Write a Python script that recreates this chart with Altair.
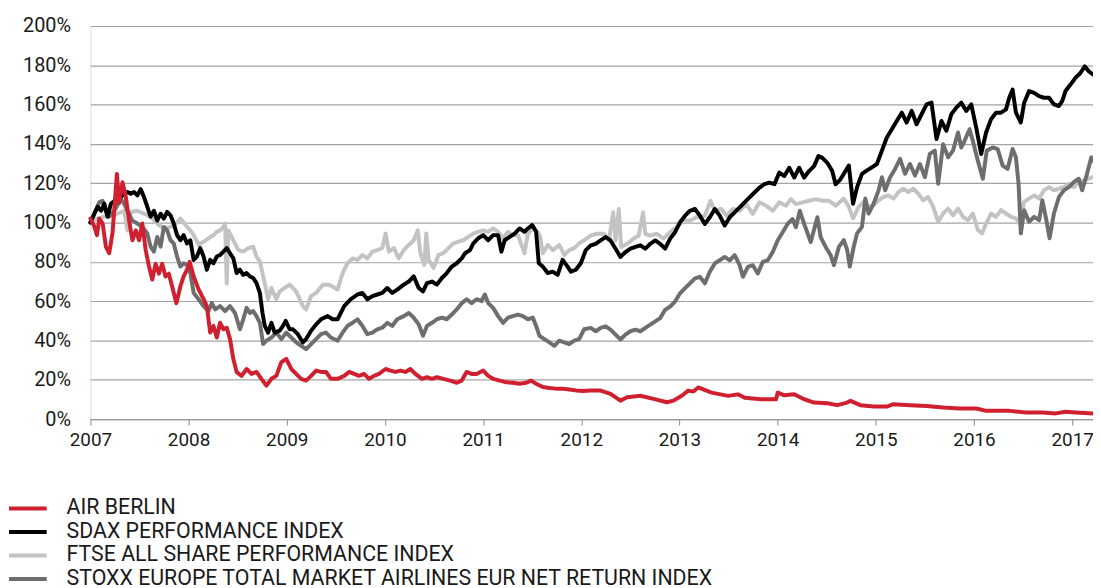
import altair as alt
import pandas as pd

# ---------------- data (years since 1 Jan 2007, value in % of start) ----------------
NAMES = [
    "AIR BERLIN",
    "SDAX PERFORMANCE INDEX",
    "FTSE ALL SHARE PERFORMANCE INDEX",
    "STOXX EUROPE TOTAL MARKET AIRLINES EUR NET RETURN INDEX",
]
COLORS = ["#d0202f", "#000000", "#c3c3c3", "#6e6e6e"]
DRAW_ORDER = [2, 3, 1, 0]

air_t = [0.000, 0.040, 0.067, 0.091, 0.125, 0.158, 0.192, 0.226, 0.260, 0.270, 0.293, 0.327, 0.361,
         0.394, 0.428, 0.462, 0.495, 0.529, 0.563, 0.597, 0.630, 0.664, 0.698, 0.731, 0.765, 0.799,
         0.832, 0.876, 0.917, 0.950, 0.984, 1.011, 1.052, 1.102, 1.153, 1.186, 1.220, 1.254, 1.287,
         1.321, 1.355, 1.389, 1.422, 1.456, 1.490, 1.540, 1.591, 1.641, 1.692, 1.742, 1.793, 1.844,
         1.894, 1.945, 1.995, 2.046, 2.096, 2.147, 2.197, 2.248, 2.299, 2.349, 2.400, 2.450,
         2.518, 2.585, 2.636, 2.687, 2.737, 2.788, 2.838, 2.889, 2.939, 3.007, 3.057, 3.108, 3.158,
         3.209, 3.259, 3.310, 3.377, 3.428, 3.479, 3.529, 3.597, 3.664, 3.731, 3.782, 3.832, 3.883,
         3.934, 4.001, 4.052, 4.102, 4.170, 4.237, 4.304, 4.372, 4.439, 4.490, 4.540, 4.608, 4.675,
         4.742, 4.810, 4.877, 4.945, 5.012, 5.096, 5.197, 5.298, 5.399, 5.467, 5.602, 5.736, 5.871,
         5.939, 6.023, 6.090, 6.141, 6.191, 6.327, 6.495, 6.596, 6.664, 6.832, 6.984, 7.001, 7.068,
         7.169, 7.270, 7.371, 7.506, 7.607, 7.708, 7.742, 7.843, 7.978, 8.113, 8.180, 8.349, 8.517,
         8.686, 8.854, 9.023, 9.124, 9.360, 9.528, 9.697, 9.832, 9.933, 10.034, 10.212]
air_v = [102, 98, 93.6, 102, 99.5, 87.7, 84.4, 95, 118, 124.7, 110, 120.5, 113,
         101, 91, 96, 91, 99.5, 86, 77.6, 71, 79, 74, 79, 72.6, 74,
         67.6, 59, 67.6, 72.6, 76, 80, 72.6, 66, 61, 57.5, 44, 47.4, 41.5,
         49, 45.7, 46.5, 40.7, 30.6, 23.9, 22, 25.5, 23, 24, 20.5, 17, 20.5,
         22, 29, 30.6, 25.5, 23, 20.5, 19.6, 22, 24.7, 24, 24, 20.5,
         20.5, 22, 24, 23, 22, 23, 20.5, 22, 23, 25.5, 24.7, 24, 24.7,
         24, 25.5, 23, 20.5, 21.3, 20.5, 21.3, 20.5, 19.6, 18.5, 19.6, 24, 23,
         23, 24.7, 22, 20.5, 19.6, 18.7, 18.5, 18, 18.5, 19.6, 18, 16.3, 15.8,
         15.5, 15.5, 15.1, 14.6, 14.3, 14.5, 14.5, 12.8, 9.4, 11.1, 11.9, 10.3, 8.6,
         9.4, 11.9, 14.5, 14, 16.1, 13.5, 11.8, 12.6, 10.9, 10.1, 10.1, 13.5, 12.1,
         12.6, 10.1, 8.4, 8.1, 7.1, 8.4, 9.3, 7.1, 6.4, 6.4, 7.6, 7.1, 6.7,
         5.9, 5.4, 5.4, 4.2, 4.2, 3.4, 3.4, 2.9, 3.7, 3.4, 2.9]

sdax_t = [0.000, 0.040, 0.074, 0.108, 0.142, 0.175, 0.209, 0.243, 0.276, 0.310, 0.344, 0.377, 0.411,
          0.445, 0.479, 0.512, 0.546, 0.580, 0.613, 0.647, 0.681, 0.715, 0.748, 0.782, 0.816, 0.849,
          0.883, 0.917, 0.950, 0.984, 1.018, 1.052, 1.085, 1.119, 1.153, 1.186, 1.220, 1.254, 1.287,
          1.321, 1.355, 1.389, 1.422, 1.456, 1.490, 1.523, 1.557, 1.591, 1.625, 1.658, 1.692, 1.726,
          1.753, 1.776, 1.810, 1.844, 1.877, 1.928, 1.962, 1.989, 2.029, 2.063, 2.113, 2.164, 2.197,
          2.248, 2.299, 2.349, 2.417, 2.467,
          2.518, 2.585, 2.653, 2.720, 2.771, 2.821, 2.872, 2.922, 2.973, 3.024, 3.074, 3.125, 3.192,
          3.243, 3.293, 3.344, 3.388, 3.428, 3.479, 3.529, 3.580, 3.630, 3.681, 3.731, 3.782, 3.816,
          3.866, 3.900, 3.950, 4.001, 4.052, 4.102, 4.153, 4.186, 4.220, 4.271, 4.321, 4.372, 4.422,
          4.456, 4.500, 4.540, 4.567, 4.608, 4.658, 4.709, 4.759, 4.810, 4.860, 4.894, 4.945, 4.995,
          5.046,
          5.096, 5.147, 5.197, 5.248, 5.298, 5.349, 5.399, 5.450, 5.500, 5.551, 5.602, 5.652, 5.703,
          5.753, 5.804, 5.854, 5.905, 5.955, 6.006, 6.057, 6.107, 6.158, 6.208, 6.259, 6.309, 6.360,
          6.410, 6.461, 6.512, 6.562, 6.613, 6.663, 6.714, 6.764, 6.815, 6.865, 6.916, 6.967, 7.017,
          7.068, 7.118, 7.169, 7.219, 7.270, 7.320, 7.371, 7.415, 7.455, 7.506, 7.556, 7.590, 7.640,
          7.674, 7.725, 7.768, 7.809, 7.859, 7.910, 7.960, 8.011, 8.062, 8.112, 8.163, 8.213, 8.264,
          8.314, 8.365, 8.415, 8.466, 8.517, 8.567, 8.618, 8.668, 8.719, 8.769, 8.820, 8.871, 8.921,
          8.972, 9.022, 9.073, 9.123, 9.174, 9.224, 9.275, 9.326, 9.359, 9.393, 9.427, 9.477, 9.511,
          9.561, 9.612, 9.663, 9.713, 9.764, 9.814, 9.865, 9.898, 9.932, 9.983, 10.033, 10.084, 10.128,
          10.168, 10.212]
sdax_v = [100, 104.5, 108, 106, 109.6, 103, 109.6, 111, 112, 113, 114.6, 115.5, 114.6,
          115.5, 113.8, 117, 113, 108, 103, 106, 101, 104.5, 102, 105.4, 103.7, 99.5,
          93.6, 91, 93.6, 89.4, 91, 81, 82.7, 87, 82.7, 76, 81, 79.3, 82.7,
          83.5, 85.2, 87, 84.4, 81.8, 74.3, 76, 73.4, 74.3, 72.6, 71.8, 69.2, 64.2,
          54, 47.4, 44, 49, 44, 45, 47.4, 50, 45.7, 45.7, 43.2, 39, 40.7,
          45, 48.2, 50.8, 52.4, 50.8,
          50.8, 57.5, 61, 63.4, 64.2, 61, 62.6, 63.4, 64.2, 66.7, 64.2, 65.9, 68.4,
          70, 72.6, 66.7, 65, 69.2, 70, 68.4, 71.8, 74.3, 77.6, 79.3, 81.8, 84.4,
          86, 89.4, 92, 93.6, 91, 93.6, 93.6, 85.2, 91, 92.7, 94.4, 97, 95.3,
          97, 98.7, 95.3, 79.3, 77.6, 74.3, 75, 73.4, 81, 77.6, 75, 76, 79.3,
          86,
          88.4, 89.2, 90.9, 92.6, 90.9, 86.7, 82.5, 85, 86.7, 87.6, 88.4, 86.7, 89.2,
          90.9, 89.2, 86.7, 91.8, 95.1, 100.2, 103.5, 106, 106.9, 103.5, 99.3, 102.7, 106.9,
          103.5, 98.5, 102.7, 105.2, 107.7, 110.3, 112.8, 115.3, 117.8, 119.5, 120.3, 119.5, 125.4,
          123.7, 127.9, 122.9, 127.9, 122.9, 126.2, 128.7, 133.8, 132.9, 130.4, 126.2, 119.5, 122,
          124.8, 129, 109.6, 118, 124.8, 126.5, 128.1, 129.8, 136.6, 143.3, 147.5, 151.7, 155.9,
          150.9, 156.8, 150, 155.1, 160.1, 161, 142.5, 151.7, 146.7, 155.1, 158.5, 161, 156.8,
          160.1, 148.4, 134.9, 145.8, 152.6, 155.9, 155.9, 157.6, 163.5, 167.7, 155.9, 150.9, 161,
          166.9, 166, 164.3, 163.5, 163.5, 160.1, 159.3, 161.8, 166.9, 170.2, 173.6, 176.1, 179.5,
          177, 175.3]

ftse_t = [0.000, 0.074, 0.142, 0.209, 0.276, 0.344, 0.377, 0.411, 0.479, 0.546, 0.613, 0.681, 0.748,
          0.816, 0.883, 0.917, 0.950, 0.984, 1.018, 1.052, 1.102, 1.153, 1.203, 1.254, 1.287, 1.321,
          1.355, 1.372, 1.389, 1.405, 1.456, 1.507, 1.557, 1.608, 1.658, 1.692, 1.726, 1.776, 1.810,
          1.844, 1.894, 1.928, 1.978, 2.029, 2.096, 2.164, 2.197, 2.248, 2.299, 2.366, 2.433,
          2.518, 2.569, 2.619, 2.670, 2.720, 2.771, 2.821, 2.872, 2.922, 2.973, 3.007, 3.040, 3.091,
          3.141, 3.192, 3.243, 3.293, 3.334, 3.361, 3.401, 3.421, 3.445, 3.495, 3.546, 3.597, 3.647,
          3.698, 3.748, 3.799, 3.849, 3.900, 3.950, 4.001, 4.052, 4.102, 4.153, 4.203, 4.254, 4.304,
          4.355, 4.422, 4.456, 4.507, 4.557, 4.581, 4.608, 4.658, 4.709, 4.776, 4.827, 4.877, 4.928,
          4.978, 5.029,
          5.096, 5.163, 5.231, 5.281, 5.325, 5.349, 5.382, 5.406, 5.467, 5.534, 5.585, 5.629, 5.652,
          5.703, 5.770, 5.837, 5.905, 5.972, 6.040, 6.107, 6.175, 6.259, 6.316, 6.360, 6.427, 6.478,
          6.545, 6.613, 6.680, 6.747, 6.815, 6.882, 6.950, 7.017, 7.085, 7.135, 7.186, 7.253, 7.320,
          7.388, 7.455, 7.523, 7.590,
          7.674, 7.725, 7.768, 7.826, 7.876, 7.927, 7.977, 8.028, 8.078, 8.129, 8.180, 8.230, 8.281,
          8.331, 8.382, 8.432, 8.483, 8.533, 8.584, 8.635, 8.685, 8.736, 8.786, 8.837, 8.887, 8.938,
          8.988, 9.039, 9.083, 9.123, 9.174, 9.224, 9.275, 9.326, 9.376, 9.427, 9.460, 9.511, 9.561,
          9.612, 9.663, 9.713, 9.764, 9.814, 9.865, 9.915, 9.966, 10.016, 10.067, 10.117, 10.168,
          10.212]
ftse_v = [100, 102, 103, 103.7, 104.5, 106, 96, 105.4, 106, 104.5, 103, 99.5, 97,
          97.8, 100, 102, 100, 97.8, 96, 93.6, 88.6, 90.3, 92, 93.6, 95.3, 96,
          97.8, 99.5, 69, 96, 91, 86, 85.2, 87, 87.7, 82.7, 80.2, 69.2, 61,
          66.7, 61, 65, 66.7, 68.4, 65, 57.5, 55.8, 62.6, 64.2, 68.4, 68.4,
          65.9, 74.3, 79.3, 81.8, 81, 83.5, 81.8, 85.2, 86, 87, 94.4, 85.2, 87,
          81.8, 86, 88.6, 91, 96, 84.4, 78.5, 94.4, 81, 76.9, 83.5, 84.4, 87,
          89.4, 90.3, 91, 92.7, 94.4, 95.3, 96, 95.3, 97, 95.3, 92, 95.3, 93.6,
          93.6, 84.4, 94.4, 97, 95.3, 92.7, 84.4, 88.6, 86, 88.6, 83.5, 86, 87,
          89.4, 91,
          93.4, 94.3, 94.3, 90.9, 105.2, 90.9, 106.9, 87.6, 89.2, 91.8, 93.4, 105.2, 94.3,
          93.4, 94.3, 91.8, 95.1, 97.6, 101, 101, 102.7, 103.5, 111.1, 106, 106.9, 103.5,
          106.9, 106, 109.4, 104.4, 110.3, 108.6, 106, 110.3, 108.6, 111.9, 109.4, 110.3, 111.1,
          111.9, 111.1, 111.1, 108.6,
          112.2, 108, 102.1, 108, 110.5, 108, 108.8, 111.3, 113, 113.8, 112.2, 115.5, 117.2,
          115.5, 117.2, 114.7, 111.3, 113, 108, 100.4, 104.6, 107.1, 103.7, 107.1, 102.9, 101.2,
          104.6, 96.2, 94.5, 99.5, 104.6, 102.9, 106.3, 104.6, 102.9, 102.1, 99.5, 110.5, 112.2,
          113.8, 112.2, 116.4, 118, 116.4, 117.2, 118, 119.7, 118, 120.6, 121.4, 122.3,
          123.1]

stoxx_t = [0.000, 0.040, 0.091, 0.125, 0.158, 0.192, 0.243, 0.310, 0.344, 0.377, 0.428, 0.479, 0.529,
           0.580, 0.613, 0.647, 0.681, 0.715, 0.748, 0.782, 0.816, 0.849, 0.883, 0.917, 0.950, 0.984,
           1.018, 1.052, 1.102, 1.153, 1.203, 1.237, 1.271, 1.321, 1.372, 1.422, 1.473, 1.523, 1.557,
           1.591, 1.625, 1.658, 1.692, 1.726, 1.759, 1.793, 1.844, 1.894, 1.945, 1.995, 2.046, 2.096,
           2.147, 2.197, 2.248, 2.299, 2.349, 2.400, 2.450,
           2.518, 2.569, 2.619, 2.670, 2.720, 2.771, 2.821, 2.872, 2.922, 2.973, 3.024, 3.074, 3.125,
           3.192, 3.243, 3.293, 3.344, 3.388, 3.428, 3.479, 3.529, 3.580, 3.630, 3.681, 3.731, 3.782,
           3.832, 3.883, 3.934, 3.984, 4.018, 4.052, 4.102, 4.153, 4.203, 4.254, 4.304, 4.355, 4.405,
           4.456, 4.507, 4.540, 4.574, 4.624, 4.675, 4.726, 4.776, 4.827, 4.877, 4.928, 4.978, 5.029,
           5.096, 5.147, 5.197, 5.248, 5.298, 5.349, 5.399, 5.450, 5.500, 5.551, 5.602, 5.652, 5.703,
           5.753, 5.804, 5.854, 5.905, 5.955, 6.006, 6.057, 6.107, 6.158, 6.208, 6.259, 6.309, 6.360,
           6.410, 6.461, 6.512, 6.562, 6.613, 6.646, 6.697, 6.747, 6.798, 6.849, 6.899, 6.950, 7.000,
           7.051, 7.101, 7.152, 7.186, 7.226, 7.270, 7.337, 7.405, 7.438, 7.489, 7.540, 7.573, 7.624,
           7.674, 7.708, 7.735, 7.775, 7.809, 7.859, 7.893, 7.927, 7.977, 8.028, 8.062, 8.095, 8.146,
           8.196, 8.247, 8.298, 8.348, 8.399, 8.449, 8.500, 8.550, 8.601, 8.635, 8.685, 8.736, 8.786,
           8.837, 8.871, 8.904, 8.955, 8.988, 9.039, 9.090, 9.130, 9.191, 9.241, 9.292, 9.342, 9.393,
           9.427, 9.454, 9.477, 9.511, 9.561, 9.612, 9.663, 9.696, 9.737, 9.770, 9.814, 9.865, 9.915,
           9.966, 10.016, 10.067, 10.101, 10.151, 10.195, 10.212]
stoxx_v = [100, 104.5, 110.4, 111, 105.4, 103, 106, 112, 109.6, 106, 101, 99.5, 97.8,
           94.4, 87.7, 85.2, 92.7, 87.7, 97.8, 96, 91, 89.4, 82.7, 77.6, 79.3, 78.5,
           74.3, 64.2, 61, 57.5, 55, 59, 55.8, 57.5, 55, 57.5, 54, 45.7, 50.8,
           56.6, 54, 55, 52.4, 49, 38.2, 39.9, 41.5, 44, 40.7, 44, 41.5, 39,
           37.3, 35.6, 38.2, 40.7, 43.2, 44, 41.5,
           39.9, 44, 47.4, 49, 50.8, 47.4, 43.2, 44, 45.7, 46.5, 49, 47.4, 50.8,
           52.4, 54, 51.6, 48.2, 42.4, 47.4, 49, 50.8, 51.6, 50.8, 53.2, 55.8, 59,
           61, 59, 61, 60, 63.4, 59, 56.6, 52.4, 49, 51.6, 52.4, 53.2, 52.4,
           50.8, 51.6, 47.4, 42.4, 40.7, 39, 37.3, 39.9, 39, 38.2, 39.9, 40.7, 45.7,
           46.4, 44.7, 46.4, 47.2, 45.5, 43, 40.5, 43, 44.7, 45.5, 44.7, 46.4, 48.1,
           49.7, 51.4, 55.6, 57.3, 59.8, 64, 66.6, 69.1, 71.6, 72.4, 69.1, 75, 79.2,
           80.8, 82.5, 80.8, 83.4, 78.3, 72.4, 77.5, 78.3, 74.1, 80, 80.8, 85, 90.9,
           95.1, 99.3, 101.8, 97.6, 106, 99.3, 90.1, 102.7, 92.6, 87.6, 83.4, 78.3, 87.6,
           91.1, 86.1, 77.6, 87.7, 94.5, 97.8, 112.2, 104.6, 109.6, 116.4, 123.1, 116.4, 123.1,
           127.3, 132.4, 124.8, 129.8, 123.9, 129.8, 123.1, 134.9, 136.6, 119.7, 139.9, 133.2, 136.6,
           145.8, 138.2, 141.6, 147.5, 141.6, 131.5, 122.3, 136.6, 138.2, 137.4, 129, 127.3, 137.4,
           133.2, 119.7, 94.5, 106.3, 100.4, 102.9, 101.2, 111.3, 101.2, 92, 104.6, 113, 116.4,
           118, 120.6, 122.3, 116.4, 124.8, 133.2, 131.5]

YEAR_TICKS = list(range(2007, 2018))
PCT_TICKS = list(range(0, 201, 20))

# ---------------- build table ----------------
series_t = [air_t, sdax_t, ftse_t, stoxx_t]
series_v = [air_v, sdax_v, ftse_v, stoxx_v]
frames = []
for name, ts, vs in zip(NAMES, series_t, series_v):
    frames.append(pd.DataFrame({"series": name, "year": [2007 + t for t in ts], "value": vs}))
df = pd.concat(frames, ignore_index=True)
legend_df = pd.DataFrame({"series": NAMES})

FONT = "Roboto"
color_scale = alt.Scale(domain=NAMES, range=COLORS)

x_enc = alt.X("year:Q", scale=alt.Scale(domain=[2007, 2017.212], nice=False, zero=False),
              axis=alt.Axis(values=YEAR_TICKS, format="d", title=None, grid=False,
                            domainColor="#9a9a9a", domainWidth=1.2, tickColor="#9a9a9a",
                            tickSize=6, tickWidth=1.2, labelPadding=6, labelFontSize=19,
                            labelFont=FONT, labelColor="#1a1a1a", labelFlush=False))
y_enc = alt.Y("value:Q", scale=alt.Scale(domain=[0, 200], nice=False),
              axis=alt.Axis(values=PCT_TICKS, labelExpr="datum.value + '%'", title=None,
                            grid=True, gridColor="#a3a3a3", gridWidth=1.2, domain=False,
                            ticks=False, tickSize=0, labelPadding=20, labelFontSize=20,
                            labelFont=FONT, labelColor="#1a1a1a"))

line_layers = []
for i in DRAW_ORDER:
    line_layers.append(
        alt.Chart(df).transform_filter(alt.datum.series == NAMES[i])
        .mark_line(strokeWidth=4, strokeJoin="round", strokeCap="round")
        .encode(x=x_enc, y=y_enc,
                color=alt.Color("series:N", scale=color_scale, legend=None))
    )
lines = alt.layer(*line_layers)

leg_y = alt.Y("series:N", scale=alt.Scale(type="point", domain=NAMES, range=[486, 557], padding=0),
              axis=None)
leg_rules = alt.Chart(legend_df).mark_rule(strokeWidth=4).encode(
    y=leg_y, x=alt.value(-82), x2=alt.value(-44),
    color=alt.Color("series:N", scale=color_scale, legend=None))
leg_text = alt.Chart(legend_df).mark_text(align="left", baseline="middle", font=FONT,
                                          fontSize=21.5, color="#1a1a1a").encode(
    y=leg_y, x=alt.value(-24), text="series:N")
legend = alt.layer(leg_rules, leg_text)

chart = alt.layer(lines, legend).resolve_scale(y="independent").properties(
    width=1010, height=396,
    autosize=alt.AutoSizeParams(type="none"),
    padding={"left": 83, "top": 16, "right": 0, "bottom": 168},
).configure_view(stroke=None).configure(background="white")

chart.save("out.html", embed_options={"renderer": "svg", "actions": False})
